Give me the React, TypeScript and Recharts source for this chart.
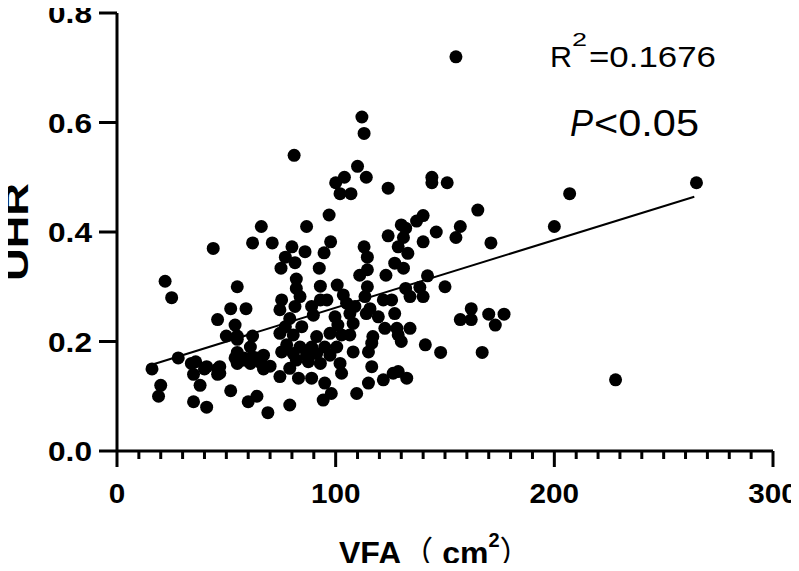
import React from "react";
import { ScatterChart, Scatter, XAxis, YAxis, ReferenceLine } from "recharts";

// VFA (cm2) / UHR pairs
const vfa = [
  155, 265, 207, 200, 228, 165, 157, 155, 146, 171, 150, 162, 157, 162, 170, 177, 173, 167, 148, 151, 144, 144, 142,
  124, 114, 110, 112, 113, 100, 104, 102, 107, 81,
  66, 71, 62, 44, 22, 25, 55, 52, 59, 46, 54, 50, 55, 62, 61, 55, 54, 55, 58, 64, 28, 16, 20, 19, 34, 35, 40, 46, 46,
  38, 35, 41, 52, 60, 64, 69, 67, 70,
  58, 62, 67, 41, 47, 36, 47, 61, 66, 55,
  97, 86.7, 130, 132, 140, 137, 124, 131, 140, 97.7, 80, 86, 94.7, 113, 128.6, 77, 81.4, 114.5, 133, 127, 131, 92.5,
  75, 114.5, 111, 123, 82, 114.5, 93, 100.7, 82, 132, 138.5, 83.7, 103.5, 113.4, 121.8, 125.6, 134, 140, 93, 96,
  81.4, 89, 105, 108.8, 115.7, 75.3, 74.5, 89.8, 99.7, 106.5, 114, 119.5, 127, 79, 77, 84.5, 101, 108, 122.5, 128,
  134, 74.5, 80.6, 91.3, 97.4, 102.7, 106.5, 117, 128.6, 130, 141, 116.5, 77.6, 83.7, 89, 95, 100.5, 75.3, 80.6,
  86.7, 91.3, 97.4, 108, 115, 82, 87.5, 93, 102, 79, 74.5, 83, 89, 102.7, 116.5, 121.8, 126.3, 128.6, 132.5, 95, 115,
  98, 109.6, 94.3, 79,
];
const uhr = [
  0.72, 0.49, 0.47, 0.41, 0.13, 0.44, 0.41, 0.39, 0.40, 0.38, 0.30, 0.26, 0.24, 0.24, 0.25, 0.25, 0.23, 0.18, 0.18, 0.49, 0.50, 0.49, 0.32,
  0.48, 0.50, 0.52, 0.61, 0.58, 0.49, 0.50, 0.47, 0.47, 0.54,
  0.41, 0.38, 0.38, 0.37, 0.31, 0.28, 0.30, 0.26, 0.26, 0.24, 0.23, 0.21, 0.21, 0.21, 0.19, 0.18, 0.17, 0.16, 0.17, 0.17, 0.17, 0.15, 0.12, 0.10, 0.16, 0.14, 0.15, 0.15, 0.14,
  0.12, 0.09, 0.08, 0.11, 0.09, 0.10, 0.07, 0.15, 0.155,
  0.166, 0.172, 0.175, 0.154, 0.154, 0.163, 0.142, 0.16, 0.16, 0.204,
  0.431, 0.41, 0.413, 0.407, 0.43, 0.42, 0.393, 0.39, 0.382, 0.382, 0.373, 0.364, 0.362, 0.373, 0.373, 0.354, 0.344, 0.354, 0.361, 0.343, 0.334, 0.334,
  0.334, 0.331, 0.321, 0.321, 0.314, 0.30, 0.301, 0.303, 0.297, 0.297, 0.299, 0.282, 0.285, 0.282, 0.276, 0.276, 0.282, 0.282, 0.276, 0.276,
  0.264, 0.264, 0.27, 0.264, 0.26, 0.276, 0.258, 0.248, 0.245, 0.251, 0.251, 0.245, 0.251, 0.242, 0.227, 0.227, 0.23, 0.233, 0.224, 0.224,
  0.224, 0.215, 0.212, 0.209, 0.215, 0.212, 0.212, 0.209, 0.212, 0.20, 0.194, 0.197, 0.194, 0.19, 0.19, 0.19, 0.19, 0.181, 0.178,
  0.175, 0.178, 0.175, 0.181, 0.181, 0.166, 0.163, 0.16, 0.16, 0.151, 0.136, 0.133, 0.133, 0.142, 0.154, 0.13, 0.142, 0.145, 0.133, 0.124, 0.124,
  0.105, 0.105, 0.093, 0.084,
];

// regression line end points
const fitVfa = [17, 264];
const fitUhr = [0.159, 0.4645];

const xTicks = [0, 10, 20, 30, 40, 50, 60, 70, 80, 90, 100, 110, 120, 130, 140, 150, 160, 170, 180, 190, 200, 210, 220, 230, 240, 250, 260, 270, 280, 290, 300];
const yTicks = [0, 0.2, 0.4, 0.6, 0.8];

const points = vfa.map((x, i) => ({ x, y: uhr[i] }));

const font = '"Liberation Sans", Arial, sans-serif';
const cjk = '"Noto Sans CJK SC", sans-serif';

const YTick = (props: any) => {
  const { x, y, payload } = props;
  return (
    <g>
      <line x1={x} x2={x - 18} y1={y} y2={y} stroke="#000" strokeWidth={3} />
      <text x={x - 25} y={y + 10} textAnchor="end" fontFamily={font} fontWeight="bold" fontSize={28} textLength={44} lengthAdjust="spacingAndGlyphs" fill="#000">
        {Number(payload.value).toFixed(1)}
      </text>
    </g>
  );
};

const XTick = (props: any) => {
  const { x, y, payload } = props;
  const major = payload.value % 100 === 0;
  const label = String(payload.value);
  return (
    <g>
      <line x1={x} x2={x} y1={y} y2={y + (major ? 16 : 8)} stroke="#000" strokeWidth={3} />
      {major && (
        <text x={x} y={y + 52} textAnchor="middle" fontFamily={font} fontWeight="bold" fontSize={28} textLength={label.length * 16.5} lengthAdjust="spacingAndGlyphs" fill="#000">
          {label}
        </text>
      )}
    </g>
  );
};

const Dot = (props: any) => <circle cx={props.cx} cy={props.cy} r={6.5} fill="#000" />;

export default function App() {
  return (
    <div style={{ position: "relative", width: 799, height: 571, margin: -8 }}>
      <ScatterChart width={799} height={571} margin={{ top: 13, right: 26, bottom: 0, left: 0 }}>
        <XAxis
          type="number"
          dataKey="x"
          domain={[0, 300]}
          ticks={xTicks}
          interval={0}
          height={120}
          tickSize={0}
          tickMargin={0}
          tickLine={false}
          tick={<XTick />}
          axisLine={{ stroke: "#000", strokeWidth: 3 }}
        />
        <YAxis
          type="number"
          dataKey="y"
          domain={[0, 0.8]}
          ticks={yTicks}
          interval={0}
          width={117}
          tickSize={0}
          tickMargin={0}
          tickLine={false}
          tick={<YTick />}
          axisLine={{ stroke: "#000", strokeWidth: 3 }}
        />
        <Scatter data={points} shape={<Dot />} isAnimationActive={false} />
        <ReferenceLine
          segment={[
            { x: fitVfa[0], y: fitUhr[0] },
            { x: fitVfa[1], y: fitUhr[1] },
          ]}
          stroke="#000"
          strokeWidth={2}
        />
      </ScatterChart>
      <svg width={799} height={571} style={{ position: "absolute", left: 0, top: 0, pointerEvents: "none" }}>
        <text
          x={16}
          y={232}
          transform="rotate(-90 16 232)"
          textAnchor="middle"
          dy={12}
          fontFamily={font}
          fontWeight="bold"
          fontSize={34}
          textLength={98}
          lengthAdjust="spacingAndGlyphs"
        >
          UHR
        </text>
        <text x={339} y={564} fontFamily={font} fontWeight="bold" fontSize={32}>
          VFA
          <tspan fontWeight="normal" fontFamily={cjk}>（</tspan>
          {" cm"}
          <tspan dy={-17} fontSize={20}>2</tspan>
          <tspan dy={17} fontWeight="normal" fontFamily={cjk}>）</tspan>
        </text>
        <text x={550} y={67} fontFamily={font} fontSize={30} textLength={22} lengthAdjust="spacingAndGlyphs">R</text>
        <text x={572} y={46} fontFamily={font} fontSize={19} textLength={15} lengthAdjust="spacingAndGlyphs">2</text>
        <text x={589} y={67} fontFamily={font} fontSize={30} textLength={127} lengthAdjust="spacingAndGlyphs">=0.1676</text>
        <text x={570} y={136} fontFamily={font} fontStyle="italic" fontSize={36} textLength={23} lengthAdjust="spacingAndGlyphs">P</text>
        <text x={594} y={136} fontFamily={font} fontSize={36} textLength={105} lengthAdjust="spacingAndGlyphs">{"<0.05"}</text>
      </svg>
    </div>
  );
}
